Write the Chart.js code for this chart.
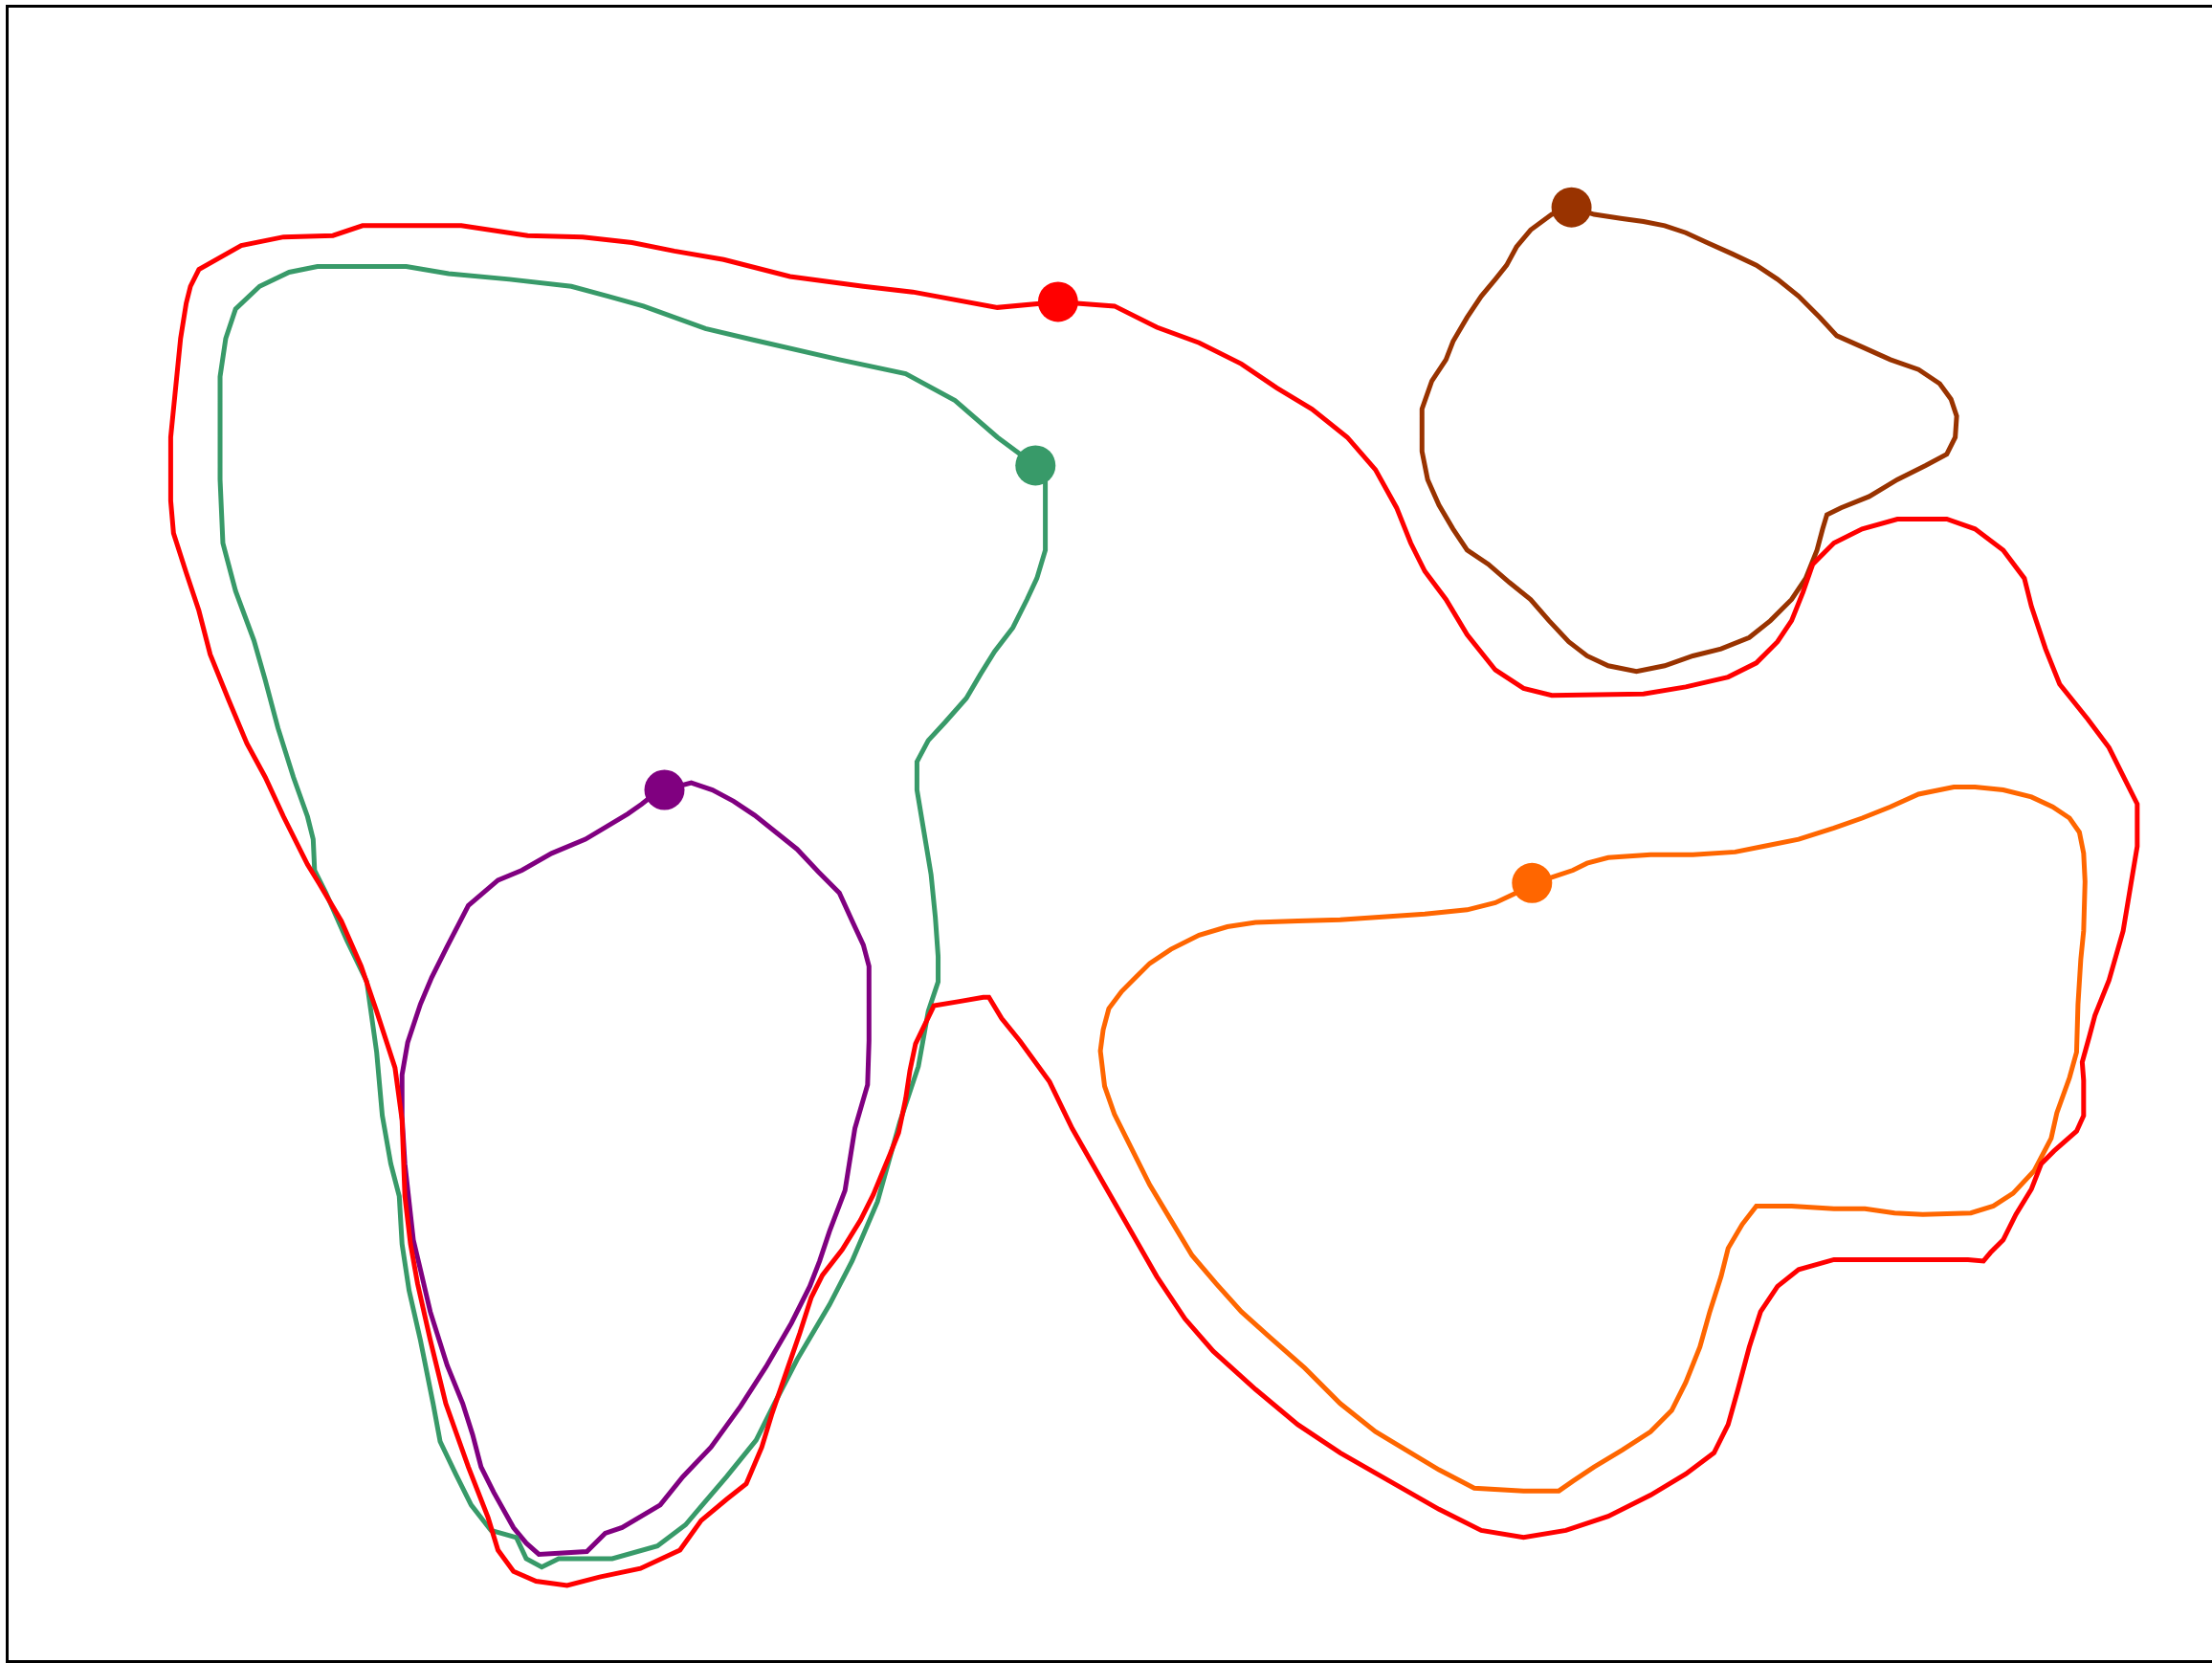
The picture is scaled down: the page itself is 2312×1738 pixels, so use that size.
<!DOCTYPE html>
<html>
<head>
<meta charset="utf-8">
<script src="https://cdn.jsdelivr.net/npm/chart.js@4"></script>
<style>
  html, body { margin: 0; padding: 0; background: #fff; overflow: hidden; }
  #wrap { position: absolute; left: 0; top: 0; width: 2312px; height: 1738px; }
  #frame { position: absolute; left: 6px; top: 5px; width: 2320px; height: 1727px;
           border-left: 3px solid #000; border-top: 3px solid #000; border-bottom: 3px solid #000; }
</style>
</head>
<body>
<div id="wrap">
  <div id="frame"></div>
  <canvas id="paths" width="2312" height="1738"></canvas>
</div>
<script>
// traced loops, [x, y] in picture units (0..1568 wide, 0..1179 high, y down)
var redPath = [[750,214],[790,217],[820,232],[850,243],[880,258],[905,275],[930,290],[955,310],[975,333],[990,360],[1000,385],[1010,405],[1025,425],[1040,450],[1060,475],[1080,488],[1100,493],[1165,492],[1195,487],[1225,480],[1245,470],[1260,455],[1270,440],[1278,420],[1285,400],[1300,385],[1320,375],[1345,368],[1380,368],[1400,375],[1420,390],[1435,410],[1440,430],[1450,460],[1460,485],[1480,510],[1495,530],[1505,550],[1515,570],[1515,600],[1510,630],[1505,660],[1495,695],[1485,720],[1481,735],[1476,753],[1477,766],[1477,791],[1472,802],[1456,816],[1447,825],[1440,843],[1429,861],[1420,879],[1411,888],[1406,894],[1395,893],[1300,893],[1275,900],[1260,912],[1248,930],[1240,955],[1232,985],[1225,1010],[1215,1030],[1195,1045],[1170,1060],[1140,1075],[1110,1085],[1080,1090],[1050,1085],[1020,1070],[985,1050],[950,1030],[920,1010],[890,985],[860,958],[840,935],[820,905],[800,870],[780,835],[760,800],[744,767],[723,738],[710,722],[701,707],[697,707],[680,710],[662,713],[649,740],[645,759],[642,779],[637,803],[631,818],[619,847],[610,865],[597,886],[583,904],[575,920],[567,945],[558,971],[547,1003],[540,1026],[529,1052],[515,1063],[497,1078],[482,1099],[454,1112],[425,1118],[402,1124],[380,1121],[364,1114],[353,1099],[346,1076],[332,1040],[316,995],[305,950],[296,910],[291,882],[287,848],[285,794],[280,757],[267,717],[256,685],[242,653],[226,626],[218,613],[201,579],[188,551],[175,527],[162,496],[149,464],[141,433],[132,406],[123,378],[121,355],[121,310],[124,280],[128,240],[132,215],[135,203],[141,191],[171,174],[201,168],[236,167],[257,160],[327,160],[374,167],[413,168],[448,172],[478,178],[513,184],[560,196],[612,203],[647,207],[707,218],[750,214]];

var greenPath = [[734,330],[741,342],[741,390],[735,410],[728,425],[718,445],[705,462],[695,478],[685,495],[670,512],[658,525],[650,540],[650,560],[655,590],[660,620],[663,650],[665,678],[665,696],[658,717],[651,756],[638,795],[622,852],[604,894],[588,925],[565,964],[549,995],[536,1021],[515,1047],[497,1068],[486,1081],[466,1096],[434,1105],[396,1105],[384,1111],[373,1105],[366,1090],[348,1085],[334,1067],[323,1045],[312,1022],[307,995],[298,950],[290,915],[285,882],[283,848],[277,825],[271,791],[267,746],[260,696],[246,667],[231,633],[223,617],[222,595],[218,579],[208,551],[197,516],[188,482],[180,454],[167,419],[158,385],[156,340],[156,300],[156,267],[160,240],[167,219],[184,203],[205,193],[225,189],[288,189],[318,194],[361,198],[405,203],[431,210],[456,217],[500,233],[534,241],[595,255],[642,265],[677,284],[707,310],[734,330]];

var purplePath = [[471,560],[490,555],[505,560],[520,568],[535,578],[550,590],[565,602],[580,618],[595,633],[605,655],[612,670],[616,685],[616,738],[615,769],[606,800],[599,844],[588,873],[581,894],[574,912],[561,938],[543,969],[525,997],[504,1026],[484,1047],[468,1067],[441,1083],[429,1087],[416,1100],[382,1102],[373,1094],[364,1083],[350,1058],[341,1040],[335,1017],[328,995],[317,968],[305,930],[298,900],[293,879],[287,825],[285,792],[285,762],[289,739],[298,712],[306,693],[317,671],[332,642],[353,624],[370,617],[391,605],[415,595],[430,586],[445,577],[455,570],[465,562],[471,560]];

var brownPath = [[1114,147],[1130,152],[1150,155],[1165,157],[1180,160],[1195,165],[1210,172],[1228,180],[1245,188],[1260,198],[1275,210],[1290,225],[1302,238],[1320,246],[1340,255],[1360,262],[1375,272],[1383,283],[1387,295],[1386,310],[1380,322],[1365,330],[1345,340],[1325,352],[1305,360],[1295,365],[1292,375],[1288,390],[1280,410],[1270,425],[1255,440],[1240,452],[1220,460],[1200,465],[1180,472],[1160,476],[1140,472],[1125,465],[1112,455],[1098,440],[1085,425],[1070,413],[1055,400],[1040,390],[1030,375],[1020,358],[1012,340],[1008,320],[1008,290],[1015,270],[1025,255],[1030,242],[1040,225],[1050,210],[1060,198],[1068,188],[1075,175],[1085,163],[1100,152],[1114,147]];

var orangePath = [[1086,626],[1100,622],[1115,617],[1125,612],[1140,608],[1170,606],[1200,606],[1230,604],[1250,600],[1275,595],[1300,587],[1320,580],[1340,572],[1360,563],[1385,558],[1400,558],[1420,560],[1440,565],[1455,572],[1467,580],[1474,590],[1477,605],[1478,625],[1477,660],[1475,680],[1473,712],[1472,746],[1467,764],[1458,789],[1454,807],[1442,830],[1427,846],[1413,855],[1397,860],[1363,861],[1343,860],[1322,857],[1300,857],[1270,855],[1245,855],[1235,868],[1225,885],[1220,905],[1212,930],[1205,955],[1195,980],[1185,1000],[1170,1015],[1150,1028],[1130,1040],[1115,1050],[1105,1057],[1080,1057],[1045,1055],[1020,1042],[1000,1030],[975,1015],[950,995],[925,970],[900,948],[880,930],[862,910],[845,890],[830,865],[815,840],[800,810],[790,790],[783,770],[780,745],[782,730],[786,715],[795,703],[805,693],[815,683],[830,673],[850,663],[870,657],[890,654],[920,653],[950,652],[980,650],[1010,648],[1040,645],[1060,640],[1075,633],[1086,626]];

var loops = [
  { name: 'red', pts: redPath, color: '#ff0000' },
  { name: 'green', pts: greenPath, color: '#389a69' },
  { name: 'purple', pts: purplePath, color: '#800080' },
  { name: 'brown', pts: brownPath, color: '#993300' },
  { name: 'orange', pts: orangePath, color: '#ff6600' }
];

function toXY(pts) {
  return pts.map(function (p) { return { x: p[0], y: p[1] }; });
}

var datasets = loops.map(function (l) {
  return {
    label: l.name,
    data: toXY(l.pts),
    showLine: true,
    borderColor: l.color,
    backgroundColor: l.color,
    borderWidth: 5,
    tension: 0,
    pointRadius: function (ctx) { return ctx.dataIndex === 0 ? 21 : 0; },
    pointHoverRadius: 0,
    pointBorderWidth: 0
  };
});

var pathChart;

document.addEventListener("DOMContentLoaded", function (event) {
  var ctx = document.getElementById("paths").getContext('2d');
  pathChart = new Chart(ctx, {
    type: 'scatter',
    data: { datasets: datasets },
    options: {
      responsive: false,
      animation: false,
      layout: { padding: 0, autoPadding: false },
      plugins: { legend: { display: false }, tooltip: { enabled: false } },
      scales: {
        x: { type: 'linear', min: 0, max: 1568, display: false },
        y: { type: 'linear', min: 0, max: 1179, reverse: true, display: false }
      }
    }
  });
});
</script>
</body>
</html>
